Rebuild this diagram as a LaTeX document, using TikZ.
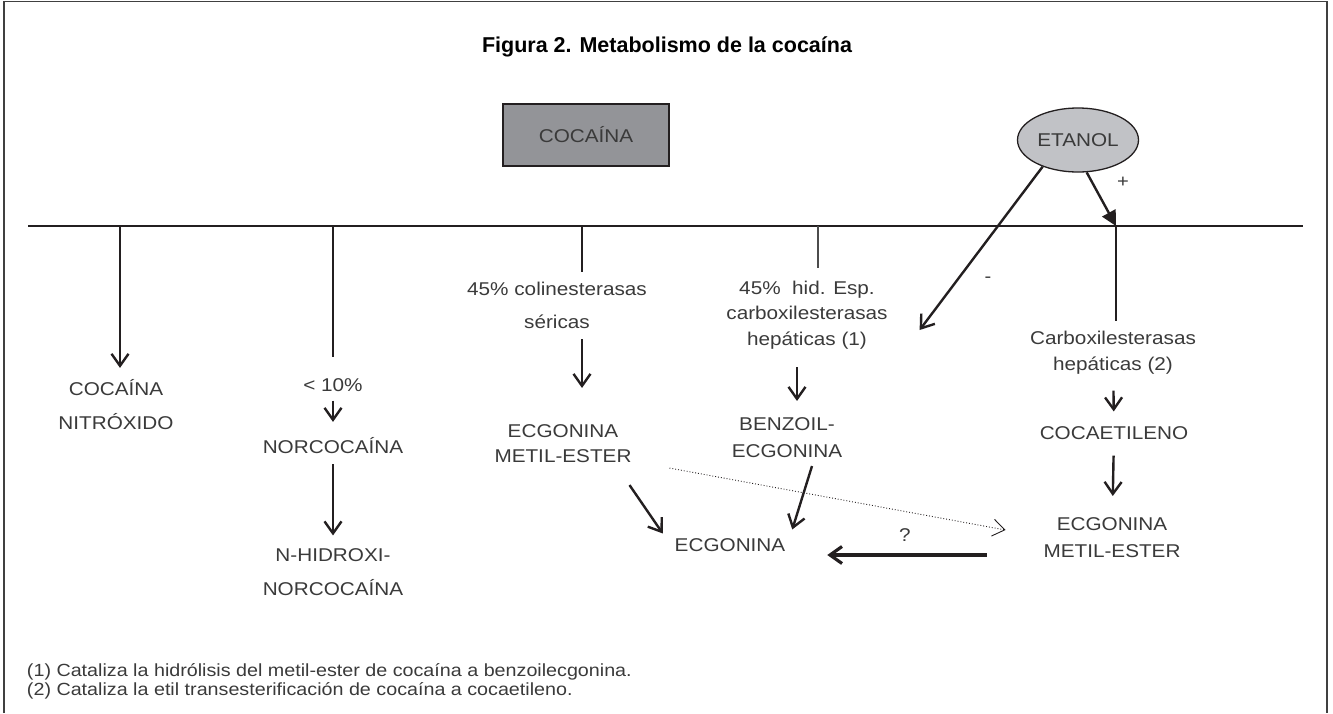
\documentclass[tikz,border=0pt]{standalone}
\usepackage{fontspec}
\setmainfont{Liberation Sans}[FakeStretch=1.12]
\newfontfamily\titlefont{Liberation Sans}
\usetikzlibrary{arrows.meta,shapes.geometric}
\definecolor{ink}{HTML}{231F20}
\definecolor{txtgray}{HTML}{3A3A3A}
\definecolor{boxgray}{HTML}{939498}
\definecolor{ovalgray}{HTML}{C1C2C6}
\tikzset{
	lbl/.style={font=\fontsize{18.5}{26}\selectfont, text=txtgray, align=center, inner sep=1pt},
	barb/.style={-{Straight Barb[length=12pt,width=17pt]}},
	branch/.style={draw=ink, line width=2.4pt}
}

\begin{document}
\begin{tikzpicture}[x=1pt,y=-1pt, line width=2pt, draw=ink]
		\useasboundingbox (0,0) rectangle (1333,713);
		\draw[line width=1.6pt, black!75] (4,713) -- (4,1.5) -- (1327,1.5) -- (1327,713);

		\node (title) at (667,47) [font=\titlefont\fontsize{21.5}{24}\selectfont\bfseries] {Figura 2. Metabolismo de la cocaína};

		\node (coca)[draw=ink, line width=1.3pt, fill=boxgray, minimum width=166pt, minimum height=62pt, lbl] at (586,135) {COCAÍNA};
		\node (etanol)[draw=ink, line width=1.3pt, fill=ovalgray, ellipse, minimum width=121pt, minimum height=64pt, inner sep=0pt, lbl] at (1078,140) {ETANOL};

		% tronco horizontal
		\coordinate (la) at (28,226);
		\coordinate (lb) at (1303,226);
		\coordinate (t1) at (120,226);
		\coordinate (t2) at (333,226);
		\coordinate (t3) at (582,226);
		\coordinate (t4) at (818,226);
		\coordinate (t5) at (1116,226);

		\node (nitro)[lbl, font=\fontsize{18.5}{34}\selectfont] at (116,405) {COCAÍNA\\NITRÓXIDO};
		\node (pct)[lbl] at (333,385) {< 10\%};
		\node (norco)[lbl] at (333,446) {NORCOCAÍNA};
		\node (hidroxi)[lbl, font=\fontsize{18.5}{34}\selectfont] at (333,572) {N-HIDROXI-\\NORCOCAÍNA};

		\node (coline)[lbl, font=\fontsize{18.5}{33}\selectfont] at (557,305) {45\% colinesterasas\\séricas};
		\node (metil)[lbl, font=\fontsize{18.5}{25}\selectfont] at (563,444) {ECGONINA\\METIL-ESTER};

		\node (carbo1)[lbl, font=\fontsize{18.5}{25.5}\selectfont] at (807,315) {45\%\ \ hid. Esp.\\carboxilesterasas\\hepáticas (1)};
		\node (benzo)[lbl, font=\fontsize{18.5}{27}\selectfont] at (787,438) {BENZOIL-\\ECGONINA};

		\node (ecgo)[lbl] at (730,545) {ECGONINA};

		\node (carbo2)[lbl] at (1113,353) {Carboxilesterasas\\hepáticas (2)};
		\node (cocaet)[lbl] at (1114,433) {COCAETILENO};
		\node (metil2)[lbl, font=\fontsize{18.5}{27}\selectfont] at (1112,538) {ECGONINA\\METIL-ESTER};

		\node (q)[lbl] at (905,535) {?};
		\node (plus)[lbl, font=\fontsize{18}{20}\selectfont] at (1123,182) {+};
		\node (minus)[lbl, font=\fontsize{18}{20}\selectfont] at (988,280) {-};

		\node (fn1)[lbl, font=\fontsize{17.6}{19}\selectfont, anchor=west] at (25,672) {(1) Cataliza la hidrólisis del metil-ester de cocaína a benzoilecgonina.};
		\node (fn2)[lbl, font=\fontsize{17.6}{19}\selectfont, anchor=west] at (25,691) {(2) Cataliza la etil transesterificación de cocaína a cocaetileno.};

		\draw (la) -- (lb);

		\draw[branch, barb, shorten >=10pt] (t1) -- (t1 |- nitro.north);
		\draw[branch, shorten >=19pt] (t2) -- (t2 |- pct.north);
		\draw[branch, barb, shorten <=7pt, shorten >=14pt] (pct) -- (norco);
		\draw[branch, barb, shorten <=8pt, shorten >=11pt] (norco) -- (hidroxi);

		\draw[branch, shorten >=8pt] (t3) -- (t3 |- coline.north);
		\draw[branch, barb, shorten <=9pt, shorten >=35pt] (coline.south -| t3) -- (metil.north -| t3);

		\draw[line width=1.6pt, black!70, shorten >=11pt] (t4) -- (t4 |- carbo1.north);
		\draw[branch, barb, shorten <=16pt, shorten >=15pt] ([xshift=-10pt]carbo1.south) -- ([xshift=10pt]benzo.north);

		\draw[branch, barb] ([shift={(-4,20)}]metil.south east) -- ([shift={(-10,-3)}]ecgo.north west);
		\draw[branch, barb] ([shift={(25,6)}]benzo.south) -- ([shift={(5,-7)}]ecgo.north east);
		\draw[line width=0.9pt, dotted, -{Straight Barb[length=12pt,width=17pt]}] ([shift={(36,3)}]metil.south east) -- ([shift={(-36,-8)}]metil2.west);
		\draw[line width=3.2pt, barb] ([shift={(-55,17)}]metil2.west) -- ([shift={(40,10)}]ecgo.east);

		\draw[branch, shorten >=8pt] (t5) -- (t5 |- carbo2.north);
		\draw[branch, barb, shorten <=14pt, shorten >=13pt] (carbo2) -- (cocaet);
		\draw[branch, barb, shorten <=14pt, shorten >=20pt] (cocaet) -- (metil2);

		\draw[branch, -{Triangle[length=15pt,width=15pt]}] (etanol.-75) -- (t5);
		\draw[branch, barb] (etanol.-143) -- ([shift={(30,15)}]carbo1.east);
	\end{tikzpicture}
\end{document}
